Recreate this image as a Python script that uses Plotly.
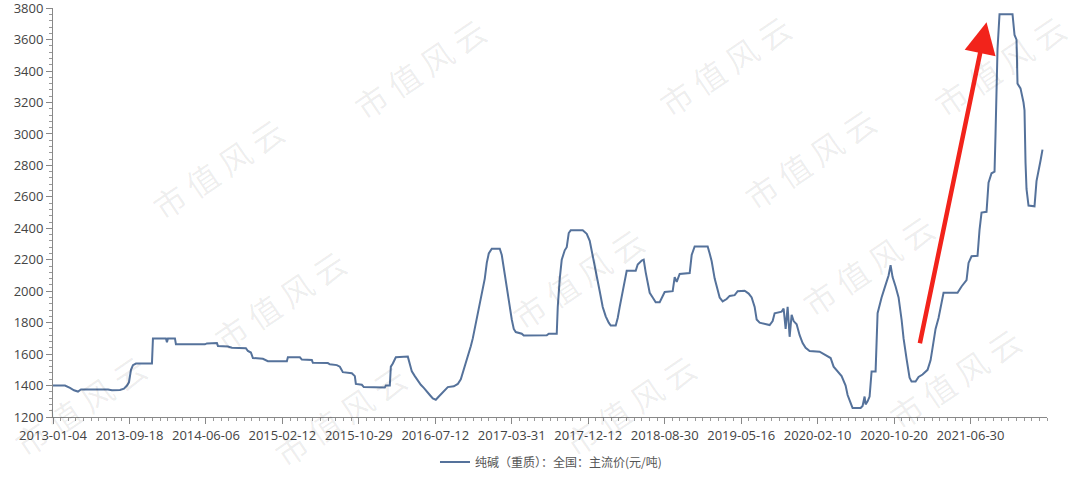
import plotly.graph_objects as go

# ---- data (trading-day index, price 元/吨) ----
day_idx = [0, 24, 34, 42, 50, 56, 110, 118, 134, 142, 148, 152, 156, 160, 166, 198, 200, 226, 228, 230,
           244, 246, 304, 308, 328, 330, 350, 358, 386, 390, 396, 400, 420, 430, 468, 470, 494, 498, 518, 520,
           550, 554, 568, 574, 580, 598, 604, 606, 618, 622, 664, 666, 674, 676, 680, 686, 710, 714, 718, 724,
           730, 736, 742, 748, 754, 760, 766, 772, 778, 784, 790, 802, 810, 816, 820, 824, 828, 832, 836, 840,
           844, 848, 852, 856, 860, 864, 868, 872, 878, 894, 898, 902, 906, 910, 914, 918, 922, 926, 938, 942,
           988, 992, 1008, 1010, 1014, 1018, 1024, 1028, 1032, 1036, 1060, 1068, 1074, 1078, 1082, 1088, 1094, 1100, 1106, 1112,
           1116, 1126, 1130, 1134, 1140, 1144, 1148, 1166, 1170, 1178, 1182, 1186, 1190, 1194, 1200, 1206, 1214, 1218, 1224, 1240,
           1244, 1248, 1254, 1274, 1278, 1284, 1310, 1314, 1318, 1324, 1330, 1334, 1340, 1348, 1354, 1364, 1370, 1384, 1392, 1398,
           1404, 1408, 1414, 1434, 1440, 1444, 1458, 1462, 1466, 1470, 1474, 1478, 1482, 1488, 1494, 1500, 1506, 1514, 1534, 1540,
           1550, 1556, 1562, 1570, 1578, 1586, 1590, 1596, 1600, 1616, 1620, 1624, 1626, 1630, 1634, 1638, 1646, 1650, 1658, 1666,
           1672, 1676, 1680, 1686, 1692, 1698, 1702, 1708, 1714, 1718, 1726, 1732, 1740, 1750, 1756, 1760, 1766, 1772, 1778, 1782,
           1810, 1818, 1828, 1832, 1838, 1850, 1854, 1858, 1868, 1872, 1878, 1884, 1886, 1888, 1890, 1894, 1920, 1924, 1928, 1930,
           1936, 1942, 1944, 1946, 1948, 1952, 1964, 1968, 1972, 1976, 1980]
price = [1400, 1400, 1385, 1370, 1362, 1375, 1375, 1370, 1372, 1380, 1400, 1420, 1500, 1530, 1540, 1540, 1700, 1700, 1675, 1700,
         1700, 1662, 1662, 1668, 1670, 1652, 1648, 1640, 1638, 1620, 1610, 1575, 1570, 1555, 1555, 1580, 1580, 1565, 1562, 1545,
         1543, 1535, 1530, 1520, 1485, 1478, 1460, 1410, 1405, 1390, 1388, 1400, 1400, 1520, 1540, 1580, 1584, 1530, 1490, 1460,
         1430, 1405, 1385, 1365, 1340, 1318, 1310, 1330, 1350, 1375, 1390, 1395, 1410, 1440, 1480, 1520, 1560, 1600, 1650, 1700,
         1760, 1830, 1900, 1960, 2000, 2080, 2180, 2240, 2270, 2270, 2230, 2150, 2060, 1960, 1880, 1820, 1760, 1740, 1730, 1718,
         1720, 1730, 1730, 1900, 2080, 2200, 2260, 2280, 2370, 2387, 2387, 2365, 2320, 2260, 2200, 2100, 2000, 1900, 1840, 1800,
         1782, 1782, 1830, 1900, 2000, 2080, 2130, 2130, 2170, 2195, 2200, 2120, 2050, 1990, 1960, 1930, 1930, 1960, 1995, 2000,
         2090, 2060, 2110, 2115, 2230, 2285, 2285, 2240, 2190, 2080, 2000, 1960, 1935, 1950, 1970, 1975, 2000, 2003, 1985, 1960,
         1900, 1820, 1800, 1785, 1810, 1860, 1870, 1890, 1760, 1900, 1710, 1850, 1810, 1790, 1720, 1670, 1640, 1620, 1615, 1605,
         1590, 1575, 1520, 1490, 1460, 1400, 1340, 1290, 1257, 1257, 1270, 1330, 1280, 1300, 1330, 1490, 1490, 1860, 1960, 2040,
         2100, 2165, 2090, 2030, 1960, 1820, 1700, 1570, 1450, 1425, 1425, 1455, 1470, 1500, 1560, 1640, 1760, 1830, 1930, 1990,
         1990, 2030, 2070, 2180, 2222, 2225, 2390, 2500, 2505, 2690, 2750, 2760, 3000, 3200, 3540, 3762, 3762, 3630, 3600, 3320,
         3290, 3200, 3150, 2820, 2650, 2545, 2540, 2700, 2780, 2830, 2900]

tick_labels = ["2013-01-04", "2013-09-18", "2014-06-06", "2015-02-12", "2015-10-29", "2016-07-12",
               "2017-03-31", "2017-12-12", "2018-08-30", "2019-05-16", "2020-02-10", "2020-10-20", "2021-06-30"]
points_per_label = 153
tick_positions = [i * points_per_label for i in range(len(tick_labels))]

series_name = "纯碱（重质）：全国：主流价(元/吨)"

# arrow (tail -> tip) in data coordinates
arrow_tail = (1734, 1659)
arrow_tip = (1868, 3711)

watermark_text = "市 值 风 云"
watermark_pos = [(0.166, 0.609), (0.369, 0.853), (0.676, 0.860), (0.953, 0.860),
                 (0.762, 0.633), (0.228, 0.286), (0.528, 0.340), (0.820, 0.372), (0.027, 0.030),
                 (0.289, 0.005), (0.580, 0.029), (0.907, 0.095)]

FONT = "Open Sans, Noto Sans CJK SC, sans-serif"

fig = go.Figure()
fig.add_trace(go.Scatter(
    x=day_idx, y=price, mode="lines", name=series_name,
    line=dict(color="#55729b", width=2),
    showlegend=True,
))

annotations = []
for (wx, wy) in watermark_pos:
    annotations.append(dict(
        x=wx, y=wy, xref="paper", yref="paper", text=watermark_text, showarrow=False,
        textangle=-34, font=dict(family="Noto Sans CJK SC", size=32, color="rgba(0,0,0,0.07)"),
        xanchor="center", yanchor="middle",
    ))
annotations.append(dict(
    x=arrow_tip[0], y=arrow_tip[1], ax=arrow_tail[0], ay=arrow_tail[1],
    xref="x", yref="y", axref="x", ayref="y", text="", showarrow=True,
    arrowhead=2, arrowsize=1.4, arrowwidth=4.5, arrowcolor="#f2231b", standoff=0, startstandoff=0,
))

fig.update_layout(
    width=1080, height=482,
    margin=dict(l=53, r=33, t=8, b=65, autoexpand=False),
    paper_bgcolor="white", plot_bgcolor="white",
    font=dict(family=FONT, size=13, color="#444"),
    showlegend=True,
    legend=dict(orientation="h", x=0.501, xanchor="center", y=-0.11, yanchor="middle",
                font=dict(family="Noto Sans CJK SC, sans-serif", size=12, color="#555"),
                bgcolor="rgba(0,0,0,0)"),
    annotations=annotations,
)
fig.update_xaxes(
    range=[0, 13 * points_per_label], tickmode="array", tickvals=tick_positions, ticktext=tick_labels,
    showgrid=False, zeroline=False, showline=True, linecolor="#888", linewidth=1,
    ticks="outside", ticklen=6, tickcolor="#888", tickfont=dict(size=13, color="#444"),
    ticklabeloverflow="allow",
    minor=dict(tickmode="linear", tick0=0, dtick=points_per_label / 10, ticks="outside", ticklen=3, tickcolor="#999"),
)
fig.update_yaxes(
    range=[1200, 3801], tickmode="linear", tick0=1200, dtick=200,
    showgrid=False, zeroline=False, showline=True, linecolor="#888", linewidth=1,
    ticks="outside", ticklen=6, tickcolor="#888", tickfont=dict(size=13, color="#444"),
    ticklabeloverflow="allow",
    minor=dict(tickmode="linear", tick0=1200, dtick=40, ticks="outside", ticklen=3, tickcolor="#999"),
)

fig.write_html("out.html", config={"displayModeBar": False},
               post_script="document.body.style.margin='0';document.body.style.overflow='hidden';")
